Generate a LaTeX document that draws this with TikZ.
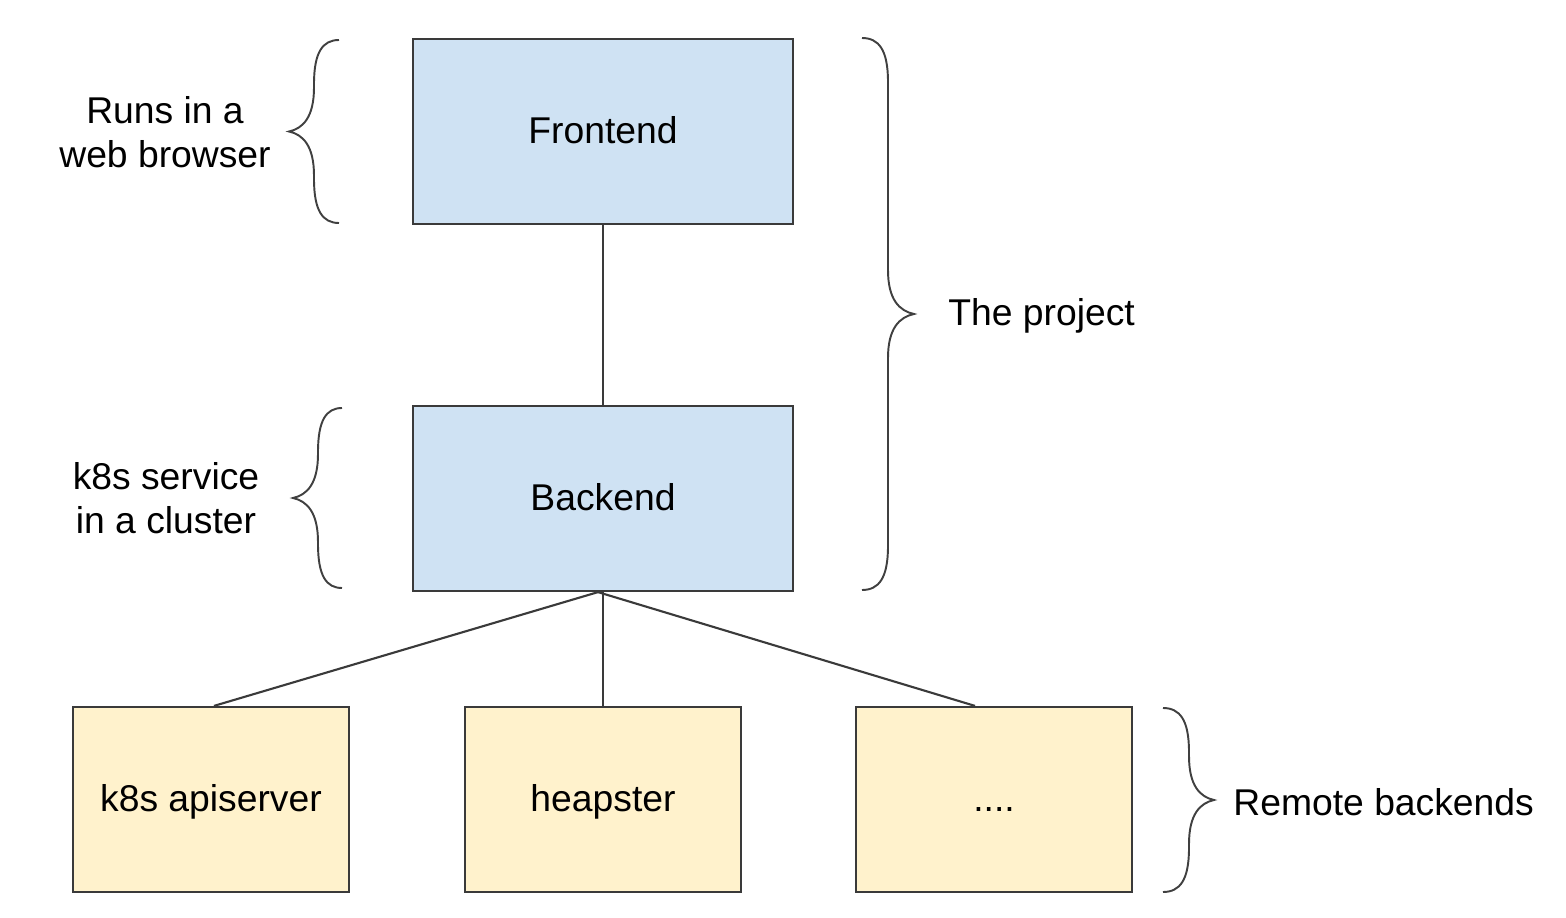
\documentclass[tikz,border=0pt]{standalone}
\usepackage{fontspec}
\setmainfont{Liberation Sans}
\definecolor{boxblue}{HTML}{CFE2F3}
\definecolor{boxyellow}{HTML}{FFF2CC}
\definecolor{edgegray}{HTML}{3A3A3A}
\tikzset{
  box/.style={draw=edgegray,line width=0.6pt,minimum height=1.85cm,text height=0.74em,text depth=0.04em,font=\fontsize{10.6}{12.5}\selectfont},
  ownbox/.style={box,fill=boxblue,minimum width=3.8cm},
  remotebox/.style={box,fill=boxyellow,minimum width=2.76cm},
  label/.style={font=\fontsize{10.6}{12.5}\selectfont,align=center},
  link/.style={draw=edgegray,line width=0.6pt},
  bracestyle/.style={draw=black!75,line width=0.55pt}
}
% #1 end x, #2 middle x, #3 tip x, #4 top y, #5 bottom y
\newcommand{\cbrace}[5]{%
\pgfmathsetmacro{\ym}{(#4+#5)/2}
\draw[bracestyle](#1,#4)..controls({#2+(#1-#2)*0.35},#4)and(#2,{#4+12})..(#2,{#4+44})
  --(#2,{\ym-44})..controls(#2,{\ym-14})and({#2+(#3-#2)*0.45},{\ym-3})..(#3,\ym)
  ..controls({#2+(#3-#2)*0.45},{\ym+3})and(#2,{\ym+14})..(#2,{\ym+44})
  --(#2,{#5-44})..controls(#2,{#5-12})and({#2+(#1-#2)*0.35},#5)..(#1,#5);}
\begin{document}
\begin{tikzpicture}[x=0.01cm,y=-0.01cm]
\useasboundingbox(0,0)rectangle(1566,918);
\node[ownbox](front)at(603,131.5){Frontend};
\node[ownbox](back)at(603,498.5){Backend};
\node[remotebox](api)at(211,799.5){k8s apiserver};
\node[remotebox](heap)at(603,799.5){heapster};
\node[remotebox](dots)at(994,799.5){....};
\draw[link](front)--(back);
\draw[link]([xshift=-0.05cm]back.south)--([xshift=0.03cm]api.north);
\draw[link](back.south)--(heap.north);
\draw[link]([xshift=-0.05cm]back.south)--([xshift=-0.19cm]dots.north);
\cbrace{339}{314}{289}{40}{223}
\cbrace{342}{318}{293}{408}{588}
\cbrace{862}{888}{914}{38}{590}
\cbrace{1163}{1189}{1214}{708}{892}
\node[label](web)at(165,132){Runs in a\\web browser};
\node[label](svc)at(166,498){k8s service\\in a cluster};
\node[label,anchor=west](proj)at(936,316){The project};
\node[label,anchor=west](remote)at(1221,802){Remote backends};
\end{tikzpicture}
\end{document}
